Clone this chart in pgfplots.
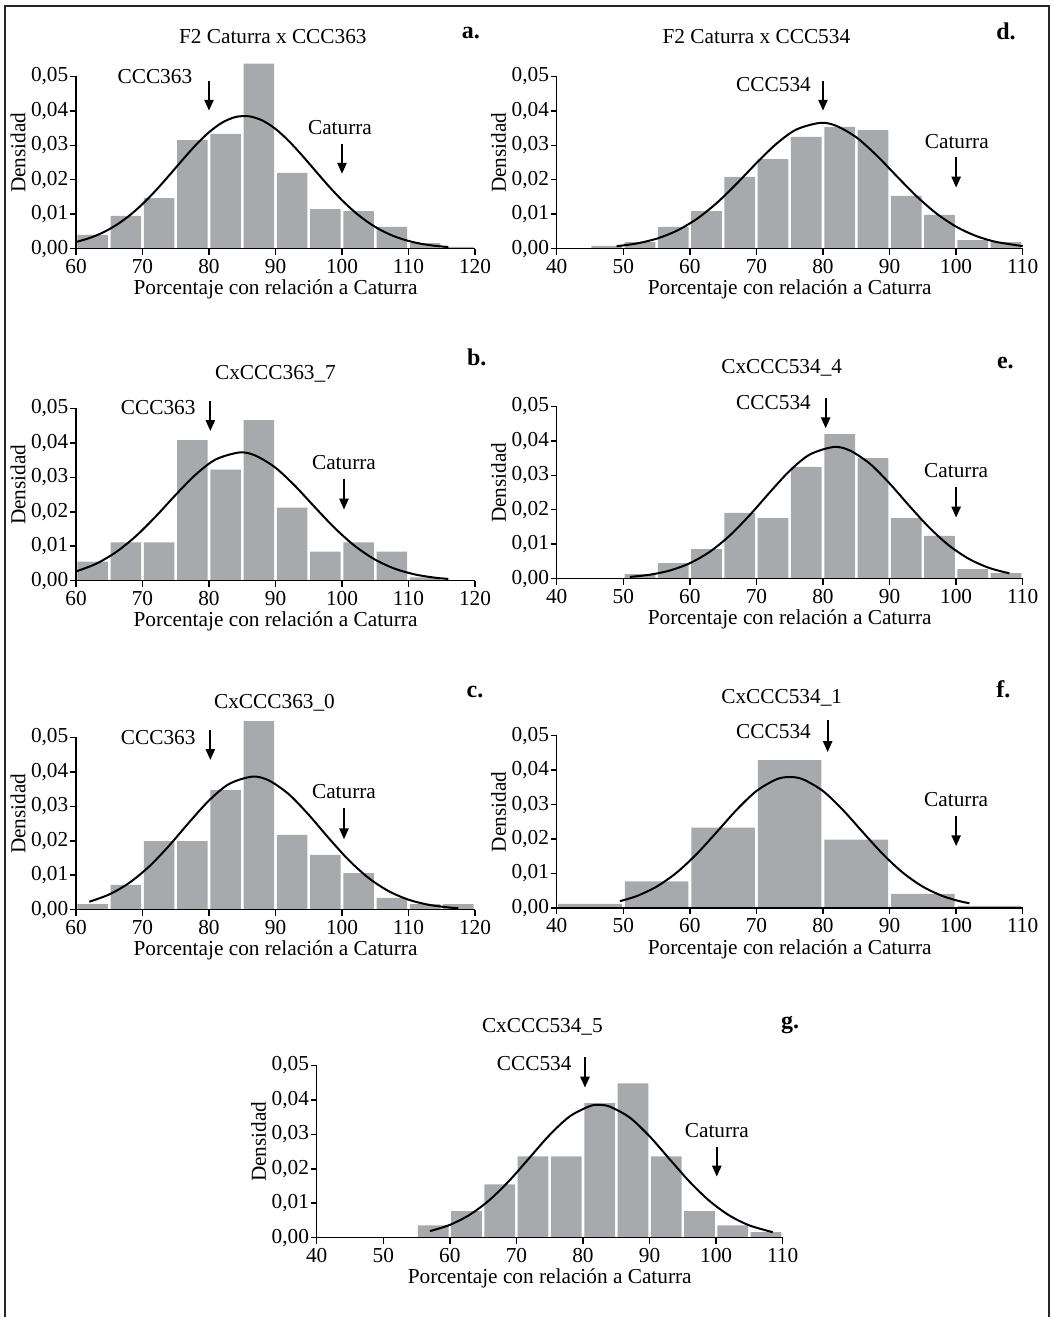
\documentclass[border=0pt]{standalone}
\usepackage{fontspec}
\setmainfont{Liberation Serif}
\usepackage{pgfplots}
\pgfplotsset{compat=1.18}
\usetikzlibrary{arrows.meta}
\definecolor{barg}{RGB}{167,169,172}
\newcommand{\ff}{\fontsize{21.3}{25}\selectfont}
\newcommand{\lf}{\fontsize{24}{28}\selectfont\bfseries}
\tikzset{
  arr/.style={line width=2.3pt, -{Triangle[length=11pt,width=9pt]}},
  lab/.style={font=\ff, inner sep=0pt},
}
\pgfplotsset{
  hist/.style={
    scale only axis, height=172.4pt,
    axis lines*=left, axis on top, clip=false,
    ymin=0, ymax=0.05, ytick={0,0.01,0.02,0.03,0.04,0.05},
    scaled y ticks=false,
    /pgf/number format/assume math mode=true,
    yticklabel style={/pgf/number format/fixed,/pgf/number format/fixed zerofill,/pgf/number format/precision=2,/pgf/number format/use comma, xshift=-1.5pt},
    xticklabel style={yshift=-4.5pt},
    tick align=outside, major tick length=6pt,
    every tick/.style={black, line width=1.5pt},
    axis line style={black, line width=1.5pt},
    tick label style={font=\ff, inner sep=0pt},
  },
  leftax/.style={hist, width=399pt, xmin=60, xmax=120, xtick={60,70,...,120}},
  rightax/.style={hist, width=466pt, xmin=40, xmax=110, xtick={40,50,...,110}},
  bars/.style={ybar, bar width=4.62, fill=barg, draw=none},
  curve/.style={black, line width=2pt, smooth, no marks},
}
\newcommand{\axlabels}{%
  \node[font=\ff, rotate=90, anchor=center] at ([xshift=-58pt]rel axis cs:0,0.557) {Densidad};
  \node[font=\ff, anchor=base] at ([yshift=-46pt]rel axis cs:0.5,0) {Porcentaje con relación a Caturra};
}
\begin{document}
\begin{tikzpicture}
\useasboundingbox (0pt,0pt) rectangle (1054pt,-1317pt);
\fill[white] (0pt,0pt) rectangle (1054pt,-1317pt);
\draw[line width=2pt, black!85] (5pt,-1317pt) -- (5pt,-6pt) -- (1049pt,-6pt) -- (1049pt,-1317pt);

% ---------- a ----------
\begin{axis}[leftax, at={(76pt,-248.7pt)}, anchor=south west]
\addplot[bars] coordinates {(62.5,0.0040)(67.5,0.0095)(72.5,0.0147)(77.5,0.0315)(82.5,0.0333)(87.5,0.0537)(92.5,0.0220)(97.5,0.0115)(102.5,0.0109)(107.5,0.0063)(112.5,0.0016)(117.5,0.0005)};
\addplot[curve] coordinates {(60,0.00195)(62,0.00307)(64,0.00465)(66,0.00679)(68,0.00955)(70,0.01294)(72,0.01689)(74,0.02124)(76,0.02573)(78,0.03004)(80,0.03378)(82,0.03660)(84,0.03820)(86,0.03841)(88,0.03721)(90,0.03474)(92,0.03124)(94,0.02706)(96,0.02259)(98,0.01816)(100,0.01407)(102,0.01050)(104,0.00755)(106,0.00523)(108,0.00349)(110,0.00225)(112,0.00139)(114,0.00083)(116,0.00048)};
\draw[arr] (axis cs:80,0.0487) -- (axis cs:80,0.0400);
\node[lab, anchor=east] at (axis cs:77.5,0.0500) {CCC363};
\draw[arr] (axis cs:100,0.0304) -- (axis cs:100,0.0217);
\node[lab, anchor=center] at (axis cs:99.7,0.0351) {Caturra};
\axlabels
\end{axis}

% ---------- d ----------
\begin{axis}[rightax, at={(556.7pt,-248.7pt)}, anchor=south west]
\addplot[bars] coordinates {(47.5,0.0008)(52.5,0.0019)(57.5,0.0063)(62.5,0.0109)(67.5,0.0208)(72.5,0.0260)(77.5,0.0324)(82.5,0.0353)(87.5,0.0344)(92.5,0.0153)(97.5,0.0098)(102.5,0.0025)(107.5,0.0019)};
\addplot[curve] coordinates {(49,0.00073)(52,0.00151)(55,0.00290)(58,0.00518)(61,0.00858)(64,0.01318)(67,0.01878)(70,0.02482)(73,0.03042)(76,0.03457)(79.6,0.03650)(82,0.03563)(85,0.03231)(88,0.02717)(91,0.02119)(94,0.01532)(97,0.01028)(100,0.00639)(103,0.00369)(106,0.00197)(110,0.00076)};
\draw[arr] (axis cs:80,0.0487) -- (axis cs:80,0.0400);
\node[lab, anchor=east] at (axis cs:78.2,0.0477) {CCC534};
\draw[arr] (axis cs:100,0.0267) -- (axis cs:100,0.0177);
\node[lab, anchor=center] at (axis cs:100.1,0.0312) {Caturra};
\axlabels
\end{axis}

% ---------- b ----------
\begin{axis}[leftax, at={(76pt,-580.7pt)}, anchor=south west]
\addplot[bars] coordinates {(62.5,0.0055)(67.5,0.0111)(72.5,0.0111)(77.5,0.0408)(82.5,0.0322)(87.5,0.0466)(92.5,0.0212)(97.5,0.0084)(102.5,0.0111)(107.5,0.0084)(112.5,0.0010)};
\addplot[curve] coordinates {(60,0.00268)(63,0.00489)(66,0.00827)(69,0.01291)(72,0.01865)(75,0.02492)(78,0.03078)(81,0.03516)(84.6,0.03720)(87,0.03628)(90,0.03277)(93,0.02737)(96,0.02114)(99,0.01510)(102,0.00997)(105,0.00609)(108,0.00344)(111,0.00180)(114,0.00087)(116,0.00051)};
\draw[arr] (axis cs:80.2,0.0521) -- (axis cs:80.2,0.0434);
\node[lab, anchor=east] at (axis cs:78.0,0.0501) {CCC363};
\draw[arr] (axis cs:100.3,0.0295) -- (axis cs:100.3,0.0206);
\node[lab, anchor=center] at (axis cs:100.3,0.0344) {Caturra};
\axlabels
\end{axis}

% ---------- e ----------
\begin{axis}[rightax, at={(556.7pt,-578.7pt)}, anchor=south west]
\addplot[bars] coordinates {(52.5,0.0013)(57.5,0.0045)(62.5,0.0086)(67.5,0.0191)(72.5,0.0176)(77.5,0.0324)(82.5,0.0419)(87.5,0.0350)(92.5,0.0176)(97.5,0.0124)(102.5,0.0028)(107.5,0.0016)};
\addplot[curve] coordinates {(51,0.00052)(54,0.00116)(57,0.00238)(60,0.00450)(63,0.00782)(66,0.01252)(69,0.01845)(72,0.02503)(75,0.03129)(78,0.03600)(81.6,0.03820)(84,0.03721)(87,0.03342)(90,0.02764)(93,0.02105)(96,0.01476)(99,0.00953)(102,0.00567)(105,0.00310)(108,0.00156)};
\draw[arr] (axis cs:80.4,0.0525) -- (axis cs:80.4,0.0436);
\node[lab, anchor=east] at (axis cs:78.2,0.0511) {CCC534};
\draw[arr] (axis cs:100,0.0267) -- (axis cs:100,0.0177);
\node[lab, anchor=center] at (axis cs:100,0.0315) {Caturra};
\axlabels
\end{axis}

% ---------- c ----------
\begin{axis}[leftax, at={(76pt,-909.7pt)}, anchor=south west]
\addplot[bars] coordinates {(62.5,0.0016)(67.5,0.0072)(72.5,0.0199)(77.5,0.0199)(82.5,0.0347)(87.5,0.0547)(92.5,0.0217)(97.5,0.0159)(102.5,0.0106)(107.5,0.0034)(112.5,0.0016)(117.5,0.0016)};
\addplot[curve] coordinates {(62,0.00232)(65,0.00443)(68,0.00778)(71,0.01253)(74,0.01857)(77,0.02530)(80,0.03167)(83,0.03645)(86.5,0.03860)(89,0.03749)(92,0.03350)(95,0.02752)(98,0.02078)(101,0.01442)(104,0.00920)(107,0.00540)(110,0.00291)(113,0.00144)(116,0.00066)(117.5,0.00043)};
\draw[arr] (axis cs:80.2,0.0521) -- (axis cs:80.2,0.0434);
\node[lab, anchor=east] at (axis cs:78.0,0.0500) {CCC363};
\draw[arr] (axis cs:100.3,0.0294) -- (axis cs:100.3,0.0204);
\node[lab, anchor=center] at (axis cs:100.3,0.0342) {Caturra};
\axlabels
\end{axis}

% ---------- f ----------
\begin{axis}[rightax, at={(556.7pt,-908pt)}, anchor=south west]
\addplot[bars, bar width=9.55] coordinates {(45,0.0012)(55,0.0077)(65,0.0233)(75,0.0429)(85,0.0198)(95,0.0041)(105,0.0006)};
\addplot[curve] coordinates {(49.5,0.00199)(52,0.00345)(55,0.00619)(58,0.01024)(61,0.01562)(64,0.02195)(67,0.02842)(70,0.03393)(73,0.03732)(75,0.03800)(77,0.03732)(80,0.03393)(83,0.02842)(86,0.02195)(89,0.01562)(92,0.01024)(95,0.00619)(98,0.00345)(100.5,0.00199)(102,0.00139)};
\draw[arr] (axis cs:80.7,0.0545) -- (axis cs:80.7,0.0452);
\node[lab, anchor=east] at (axis cs:78.2,0.0511) {CCC534};
\draw[arr] (axis cs:100,0.0266) -- (axis cs:100,0.0179);
\node[lab, anchor=center] at (axis cs:100,0.0315) {Caturra};
\axlabels
\end{axis}

% ---------- g ----------
\begin{axis}[rightax, at={(316.7pt,-1237.7pt)}, anchor=south west]
\addplot[bars] coordinates {(57.5,0.0036)(62.5,0.0077)(67.5,0.0155)(72.5,0.0236)(77.5,0.0236)(82.5,0.0390)(87.5,0.0448)(92.5,0.0236)(97.5,0.0077)(102.5,0.0036)(107.5,0.0016)};
\addplot[curve] coordinates {(57,0.00191)(60,0.00372)(63,0.00667)(66,0.01100)(69,0.01668)(72,0.02326)(75,0.02983)(78,0.03518)(81,0.03815)(82.4,0.03850)(84,0.03804)(87,0.03489)(90,0.02942)(93,0.02281)(96,0.01627)(99,0.01067)(102,0.00643)(105,0.00357)(108.5,0.00161)};
\draw[arr] (axis cs:80.3,0.0524) -- (axis cs:80.3,0.0435);
\node[lab, anchor=east] at (axis cs:78.3,0.0505) {CCC534};
\draw[arr] (axis cs:100.1,0.0264) -- (axis cs:100.1,0.0177);
\node[lab, anchor=center] at (axis cs:100.1,0.0312) {Caturra};
\axlabels
\end{axis}

% ---------- titles and letters ----------
\node[font=\ff, anchor=base] at (272.8pt,-43pt) {F2 Caturra x CCC363};
\node[font=\ff, anchor=base] at (756.4pt,-43pt) {F2 Caturra x CCC534};
\node[font=\ff, anchor=base] at (275.5pt,-379pt) {CxCCC363\_7};
\node[font=\ff, anchor=base] at (781.7pt,-373.5pt) {CxCCC534\_4};
\node[font=\ff, anchor=base] at (274.5pt,-708.7pt) {CxCCC363\_0};
\node[font=\ff, anchor=base] at (781.7pt,-703.7pt) {CxCCC534\_1};
\node[font=\ff, anchor=base] at (542.4pt,-1032pt) {CxCCC534\_5};
\node[font=\lf, anchor=base] at (470.8pt,-38.5pt) {a.};
\node[font=\lf, anchor=base] at (1006pt,-39pt) {d.};
\node[font=\lf, anchor=base] at (476.7pt,-365pt) {b.};
\node[font=\lf, anchor=base] at (1005.4pt,-368.3pt) {e.};
\node[font=\lf, anchor=base] at (475pt,-697.3pt) {c.};
\node[font=\lf, anchor=base] at (1003.4pt,-697.3pt) {f.};
\node[font=\lf, anchor=base] at (790pt,-1028.3pt) {g.};
\end{tikzpicture}
\end{document}
